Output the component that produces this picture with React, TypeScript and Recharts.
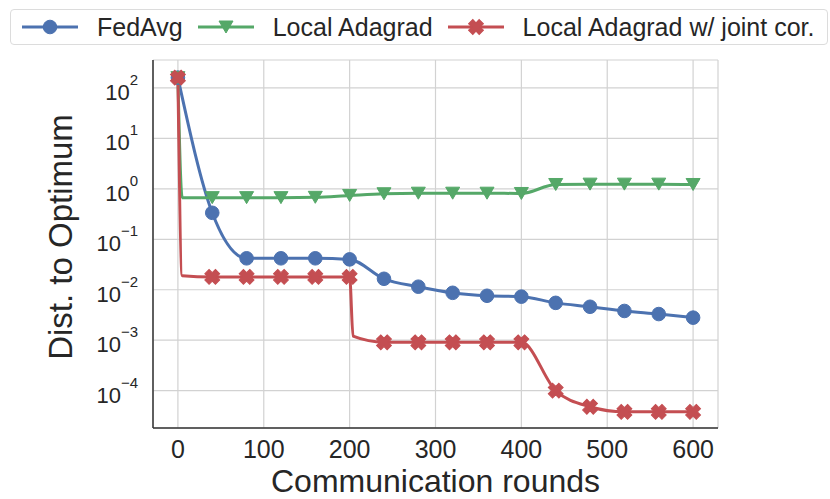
import React from "react";
import { LineChart, Line, XAxis, YAxis, CartesianGrid, Legend } from "recharts";

const rounds = [0, 40, 80, 120, 160, 200, 240, 280, 320, 360, 400, 440, 480, 520, 560, 600];
const fedAvg = [160, 0.335, 0.042, 0.042, 0.042, 0.04, 0.0165, 0.0115, 0.0087, 0.0076, 0.0073, 0.0055, 0.0046, 0.0038, 0.0033, 0.0028];
const localAdagrad = [160, 0.67, 0.67, 0.67, 0.68, 0.74, 0.8, 0.82, 0.82, 0.82, 0.81, 1.22, 1.24, 1.24, 1.24, 1.22];
const localAdagradJoint = [160, 0.018, 0.018, 0.018, 0.018, 0.018, 0.00091, 0.00091, 0.00091, 0.00091, 0.00091, 0.0001, 0.000048, 0.000038, 0.000038, 0.000038];

// points on the steep drops between markers (no marker drawn there)
const adagradDropRounds = [5];
const adagradDropValues = [0.67];
const jointDropRounds = [5, 204];
const jointDropValues = [0.019, 0.0012];

const xTicks = [0, 100, 200, 300, 400, 500, 600];
const yTicks = [1e-4, 1e-3, 1e-2, 1e-1, 1, 10, 100];

const BLUE = "#4C72B0";
const GREEN = "#55A868";
const RED = "#C44E52";
const TEXT = "#262626";
const FONT = "'Liberation Sans', Arial, Helvetica, sans-serif";

const toPoints = (xs: number[], ys: number[]) => xs.map((x, i) => ({ x, y: ys[i] }));

const fedAvgData = toPoints(rounds, fedAvg);
const adagradData = [...toPoints(rounds, localAdagrad), ...toPoints(adagradDropRounds, adagradDropValues)].sort((a, b) => a.x - b.x);
const jointData = [...toPoints(rounds, localAdagradJoint), ...toPoints(jointDropRounds, jointDropValues)].sort((a, b) => a.x - b.x);

const markerRounds = new Set(rounds);

type Shape = "circle" | "triangle" | "x";

function Marker({ shape, cx, cy, color }: { shape: Shape; cx: number; cy: number; color: string }) {
  if (shape === "circle") {
    return <circle cx={cx} cy={cy} r={6.8} fill={color} stroke={color} strokeWidth={1} />;
  }
  if (shape === "triangle") {
    return (
      <polygon
        points={`${cx - 7},${cy - 6} ${cx + 7},${cy - 6} ${cx},${cy + 6}`}
        fill={color}
        stroke={color}
        strokeWidth={1}
      />
    );
  }
  const w = 3;
  const r = 7.5;
  const pts = [
    [-w, -r], [w, -r], [w, -w], [r, -w], [r, w], [w, w],
    [w, r], [-w, r], [-w, w], [-r, w], [-r, -w], [-w, -w],
  ]
    .map(([a, b]) => `${a},${b}`)
    .join(" ");
  return (
    <polygon
      points={pts}
      transform={`translate(${cx},${cy}) rotate(45)`}
      fill={color}
      stroke={color}
      strokeWidth={1}
    />
  );
}

const makeDot = (shape: Shape, color: string) => (props: any) => {
  const { cx, cy, payload, index } = props;
  if (!markerRounds.has(payload.x) || cx == null || cy == null) return <g key={`d-${index}`} />;
  return (
    <g key={`d-${index}`}>
      <Marker shape={shape} cx={cx} cy={cy} color={color} />
    </g>
  );
};

const XTick = (props: any) => {
  const { x, y, payload } = props;
  return (
    <text x={x} y={y + 30} textAnchor="middle" fill={TEXT} fontSize={25} fontFamily={FONT}>
      {payload.value}
    </text>
  );
};

const YTick = (props: any) => {
  const { x, y, payload } = props;
  const exp = Math.round(Math.log10(payload.value));
  const expText = exp < 0 ? `\u2212${-exp}` : `${exp}`;
  return (
    <text x={x - 15} y={y + 12} textAnchor="end" fill={TEXT} fontSize={22} fontFamily={FONT}>
      10
      <tspan dy={-15} fontSize={15}>
        {expText}
      </tspan>
    </text>
  );
};

const legendItems: { label: string; color: string; shape: Shape }[] = [
  { label: "FedAvg", color: BLUE, shape: "circle" },
  { label: "Local Adagrad", color: GREEN, shape: "triangle" },
  { label: "Local Adagrad w/ joint cor.", color: RED, shape: "x" },
];

const LegendBox = () => (
  <div
    style={{
      display: "flex",
      alignItems: "center",
      height: 36,
      boxSizing: "border-box",
      border: "1px solid #dcdcdc",
      borderRadius: 4,
      background: "#fff",
      paddingLeft: 11,
      fontFamily: FONT,
      fontSize: 25,
      color: TEXT,
      whiteSpace: "nowrap",
    }}
  >
    {legendItems.map((it) => (
      <div key={it.label} style={{ display: "flex", alignItems: "center", marginRight: 15 }}>
        <svg width={56} height={20}>
          <line x1={0} y1={10} x2={56} y2={10} stroke={it.color} strokeWidth={3} />
          <Marker shape={it.shape} cx={28} cy={10} color={it.color} />
        </svg>
        <span style={{ marginLeft: 19 }}>{it.label}</span>
      </div>
    ))}
  </div>
);

const YLabel = (props: any) => {
  const { viewBox } = props;
  const cx = viewBox.x + 61;
  const cy = viewBox.y + viewBox.height / 2 - 7;
  return (
    <text
      x={0}
      y={0}
      transform={`translate(${cx},${cy}) rotate(-90)`}
      textAnchor="middle"
      dy={11}
      fill={TEXT}
      fontSize={33}
      fontFamily={FONT}
    >
      Dist. to Optimum
    </text>
  );
};

const XLabel = (props: any) => {
  const { viewBox } = props;
  return (
    <text
      x={viewBox.x + viewBox.width / 2}
      y={viewBox.y + 64}
      textAnchor="middle"
      fill={TEXT}
      fontSize={32}
      fontFamily={FONT}
    >
      Communication rounds
    </text>
  );
};

const border = { stroke: "#333333", strokeWidth: 1.5 };

export default function App() {
  return (
    <div style={{ position: "absolute", left: 0, top: 0, width: 830, height: 499, background: "#fff" }}>
      <LineChart width={830} height={499} margin={{ top: 60, right: 112, bottom: 0, left: 0 }}>
        <CartesianGrid stroke="#d2d2d2" strokeWidth={1.2} />
        <XAxis
          dataKey="x"
          type="number"
          domain={[-29, 629]}
          ticks={xTicks}
          allowDataOverflow
          tick={<XTick />}
          tickLine={false}
          tickSize={0}
          tickMargin={0}
          axisLine={border}
          height={71}
          label={<XLabel />}
        />
        <XAxis xAxisId="top" orientation="top" type="number" domain={[-29, 629]} tick={false} tickLine={false} axisLine={border} height={0} />
        <YAxis
          type="number"
          scale="log"
          domain={[1.82e-5, 358]}
          ticks={yTicks}
          allowDataOverflow
          tick={<YTick />}
          tickLine={false}
          tickSize={0}
          tickMargin={0}
          axisLine={border}
          width={153}
          label={<YLabel />}
        />
        <YAxis yAxisId="right" orientation="right" tick={false} tickLine={false} axisLine={border} width={0} />
        <Legend
          verticalAlign="middle"
          align="center"
          content={<LegendBox />}
          wrapperStyle={{ top: 9, left: 10, width: 818, height: 36 }}
        />
        <Line
          data={fedAvgData}
          dataKey="y"
          name="FedAvg"
          type="monotone"
          stroke={BLUE}
          strokeWidth={3}
          dot={makeDot("circle", BLUE)}
          activeDot={false}
          isAnimationActive={false}
        />
        <Line
          data={adagradData}
          dataKey="y"
          name="Local Adagrad"
          type="monotone"
          stroke={GREEN}
          strokeWidth={3}
          dot={makeDot("triangle", GREEN)}
          activeDot={false}
          isAnimationActive={false}
        />
        <Line
          data={jointData}
          dataKey="y"
          name="Local Adagrad w/ joint cor."
          type="monotone"
          stroke={RED}
          strokeWidth={3}
          dot={makeDot("x", RED)}
          activeDot={false}
          isAnimationActive={false}
        />
      </LineChart>
    </div>
  );
}
